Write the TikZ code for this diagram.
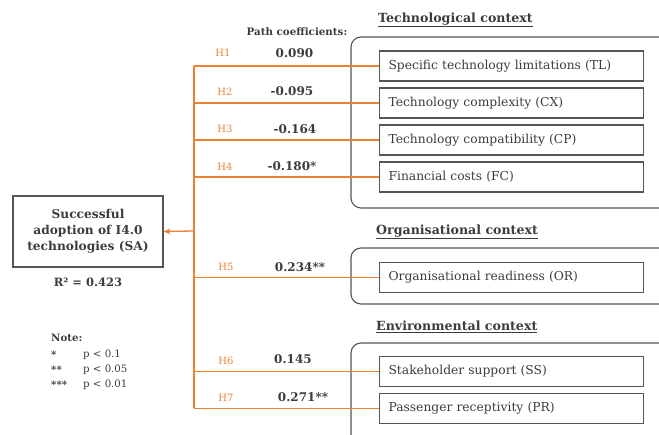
\documentclass[tikz,border=0pt]{standalone}
\usepackage{fontspec}
\setmainfont{DejaVu Serif}
\usetikzlibrary{arrows.meta}
\definecolor{hypo}{RGB}{238,128,50}
\definecolor{frame}{RGB}{85,85,85}
\definecolor{ink}{RGB}{60,60,60}
\begin{document}
\begin{tikzpicture}[x=1pt, y=-1pt, font=\fontsize{12.3}{14}\selectfont, text=ink,
            box/.style = {draw=frame, line width=1.1pt, anchor=west, minimum width=264pt, minimum height=30pt,
                          text width=246pt, inner xsep=9pt, align=left},
            group/.style = {draw=frame, line width=1.1pt, rounded corners=10pt},
            title/.style = {anchor=west, inner sep=0pt, font=\fontsize{12.6}{15}\selectfont\bfseries},
            hyp/.style = {draw=hypo, line width=1.3pt},
            hlabel/.style = {text=hypo, font=\fontsize{10}{12}\selectfont},
            coef/.style = {font=\fontsize{12}{14}\selectfont\bfseries}]
    \useasboundingbox (0,0) rectangle (659,435);
    \clip (0,0) rectangle (659,435);

    % context groups
    \draw[group] (351,37) rectangle (690,208);
    \draw[group] (351,248) rectangle (690,304);
    \draw[group] (351,343) rectangle (690,460);
    \node[title] at (378,20) {\underline{Technological context}};
    \node[title] at (376,232) {\underline{Organisational context}};
    \node[title] at (376,327) {\underline{Environmental context}};

    % constructs
    \node[box] (TL) at (379,66) {Specific technology limitations (TL)};
    \node[box] (CX) at (379,103) {Technology complexity (CX)};
    \node[box] (CP) at (379,140) {Technology compatibility (CP)};
    \node[box] (FC) at (379,177) {Financial costs (FC)};
    \node[box] (OR) at (379,277.5) {Organisational readiness (OR)};
    \node[box] (SS) at (379,371.5) {Stakeholder support (SS)};
    \node[box] (PR) at (379,408.5) {Passenger receptivity (PR)};

    \node[draw=frame, line width=1.1pt, minimum width=150pt, minimum height=71pt, align=center,
          font=\fontsize{12.2}{16}\selectfont\bfseries] (SA) at (88,231.5)
          {Successful\\adoption of I4.0\\technologies (SA)};
    \node[font=\fontsize{11.5}{14}\selectfont\bfseries] (R2) at (88,282) {R² = 0.423};

    % paths
    \coordinate (spine) at (194,231);
    \coordinate (top) at (194,66);
    \coordinate (bot) at (194,408.5);
    \draw[hyp] (top) -- (bot);
    \foreach \c in {TL,CX,CP,FC,OR,SS,PR}
        \draw[hyp] (\c.west -| spine) -- (\c.west);
    \draw[hyp, -{Stealth[length=7pt, width=6pt]}] (spine) -- (SA.east);

    \node[font=\fontsize{10.3}{12}\selectfont\bfseries] (pc) at (297,32) {Path coefficients:};
    \node[hlabel] (H1) at (223,53) {H1};
    \node[hlabel] (H2) at (225,92) {H2};
    \node[hlabel] (H3) at (225,129) {H3};
    \node[hlabel] (H4) at (225,167) {H4};
    \node[hlabel] (H5) at (226,267) {H5};
    \node[hlabel] (H6) at (226,361) {H6};
    \node[hlabel] (H7) at (226,398) {H7};
    \node[coef] (c1) at (294.5,53) {0.090};
    \node[coef] (c2) at (292,91) {-0.095};
    \node[coef] (c3) at (295,129) {-0.164};
    \node[coef] (c4) at (292,166) {-0.180*};
    \node[coef] (c5) at (300,267) {0.234**};
    \node[coef] (c6) at (293,359) {0.145};
    \node[coef] (c7) at (303,397) {0.271**};

    % note
    \node[anchor=west, inner sep=0pt, font=\fontsize{10.2}{12}\selectfont\bfseries] (note) at (51,338) {Note:};
    \foreach \s/\p [count=\i] in {*/0.1, **/0.05, ***/0.01} {
        \node[anchor=west, inner sep=0pt, font=\fontsize{10.2}{12}\selectfont\bfseries] (s\i) at (51,340+15*\i) {\s};
        \node[anchor=west, inner sep=0pt, font=\fontsize{10.2}{12}\selectfont] (p\i) at (83,340+15*\i) {p < \p};
    }
\end{tikzpicture}
\end{document}
